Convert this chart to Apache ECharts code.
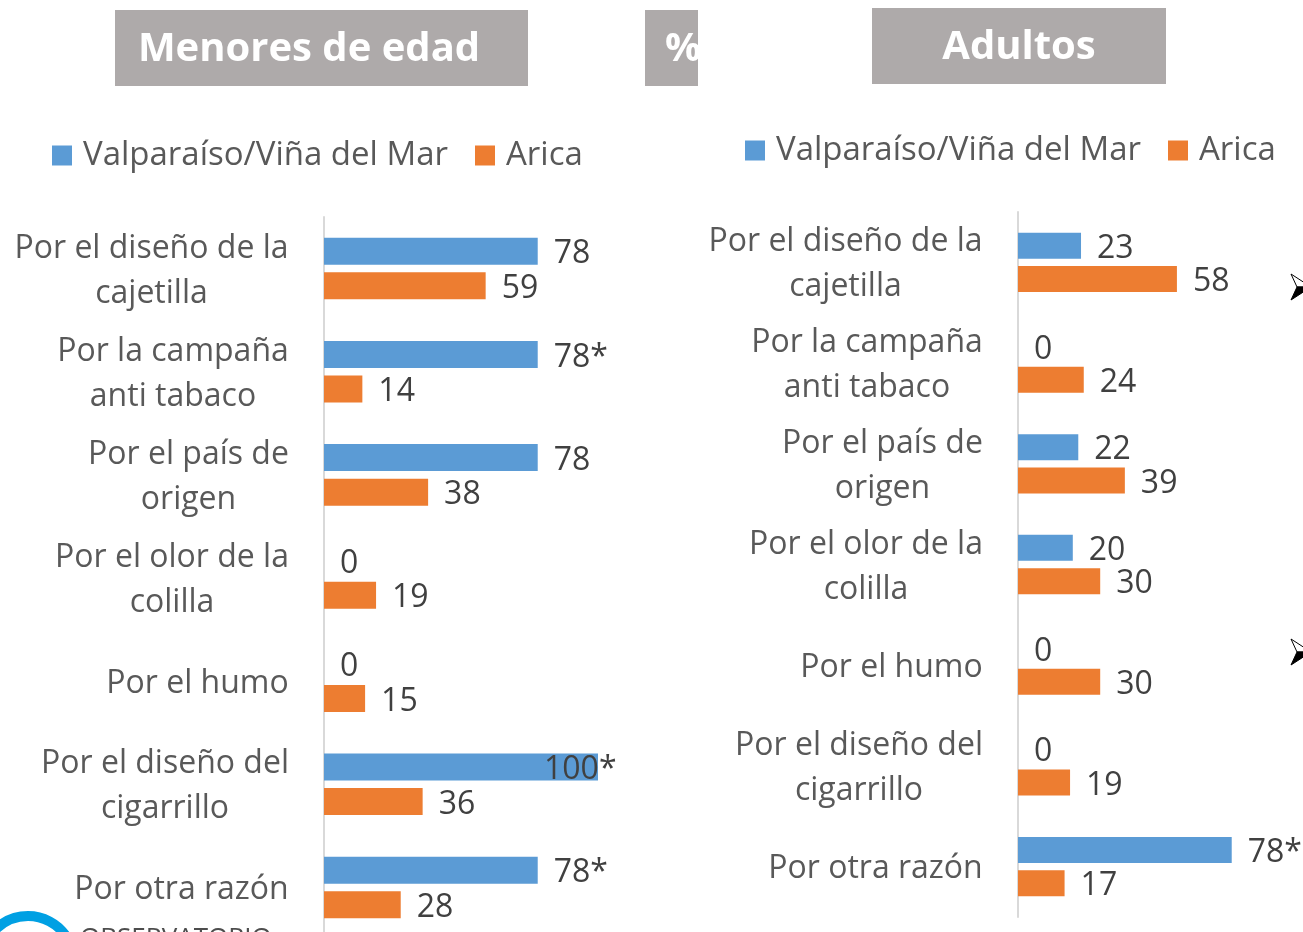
<!DOCTYPE html>
<html>
<head>
<meta charset="utf-8">
<script src="https://cdn.jsdelivr.net/npm/echarts@6/dist/echarts.min.js"></script>
<style>
  html, body { margin: 0; padding: 0; background: #ffffff; }
  #chart { width: 1303px; height: 932px; }
</style>
</head>
<body>
<div id="chart"></div>
<script>
// Reasons given, one row per category (top to bottom)
const categorias = [
  'Por el diseño de la\ncajetilla',
  'Por la campaña\nanti tabaco',
  'Por el país de\norigen',
  'Por el olor de la\ncolilla',
  'Por el humo',
  'Por el diseño del\ncigarrillo',
  'Por otra razón'
];
const nombresSeries = ['Valparaíso/Viña del Mar', 'Arica'];

// Menores de edad (%)
const valparaisoMenores = [78, 78, 78, 0, 0, 100, 78];
const aricaMenores = [59, 14, 38, 19, 15, 36, 28];
const asteriscoMenores = [false, true, false, false, false, true, true];

// Adultos (%)
const valparaisoAdultos = [23, 0, 22, 20, 0, 0, 78];
const aricaAdultos = [58, 24, 39, 30, 30, 19, 17];
const asteriscoAdultos = [false, false, false, false, false, false, true];

const FONT = '"Open Sans"';
const AZUL = '#5b9bd5';
const NARANJA = '#ed7d31';
const GRIS_TEXTO = '#595959';
const GRIS_VALOR = '#404040';
const TAM = 32;

// Multi-line category labels: lines centred on each other, block right-aligned to the axis
const ctx = document.createElement('canvas').getContext('2d');
ctx.font = TAM + 'px ' + FONT;
const richCategorias = {};
categorias.forEach((c, i) => {
  const w = Math.max(...c.split('\n').map(l => ctx.measureText(l).width));
  richCategorias['c' + i] = {
    width: Math.ceil(w) + 2, align: 'center', fontSize: TAM, lineHeight: 45,
    color: GRIS_TEXTO, fontFamily: FONT
  };
});
const formatoCategoria = (v, i) => v.split('\n').map(l => `{c${i}|${l}}`).join('\n');

function ejeCategorias(gridIndex) {
  return {
    type: 'category', gridIndex, data: categorias, inverse: true,
    axisLine: { show: true, lineStyle: { color: '#d9d9d9', width: 2 } },
    axisTick: { show: false },
    axisLabel: { margin: 34, padding: [5, 0, 0, 0], formatter: formatoCategoria, rich: richCategorias }
  };
}
function ejeValores(gridIndex) {
  return {
    type: 'value', gridIndex, min: 0, max: 100,
    show: false, splitLine: { show: false }
  };
}
function etiqueta(asteriscos) {
  return {
    show: true, position: 'right', distance: 16, offset: [0, 3],
    fontSize: TAM, fontFamily: FONT, color: GRIS_VALOR,
    formatter: p => p.value + (asteriscos && asteriscos[p.dataIndex] ? '*' : '')
  };
}
// A full-scale bar keeps its label over the bar end so it stays on the canvas
const datosBarra = arr => arr.map(v => v >= 100 ? { value: v, label: { offset: [-70, 3] } } : v);

function serie(nombre, datos, color, idx, asteriscos, ancho) {
  return {
    type: 'bar', name: nombre, xAxisIndex: idx, yAxisIndex: idx,
    data: datosBarra(datos), barWidth: ancho, barGap: '28%',
    itemStyle: { color }, label: etiqueta(asteriscos)
  };
}

function leyenda(left, top) {
  return {
    left, top, orient: 'horizontal', icon: 'rect',
    itemWidth: 20, itemHeight: 20, itemGap: 27,
    data: nombresSeries,
    textStyle: { fontSize: 33, fontFamily: FONT, color: GRIS_TEXTO, padding: [0, 0, 0, 6] }
  };
}

function cajaTitulo(x, y, w, h, texto, tx) {
  return [
    { type: 'rect', shape: { x, y, width: w, height: h }, style: { fill: '#aeaaaa' }, silent: true },
    {
      type: 'text', x: tx !== undefined ? tx : x + w / 2, y: y + h / 2 + 2, silent: true,
      style: {
        text: texto, fill: '#ffffff', font: 'bold 40px ' + FONT,
        textAlign: 'center', textVerticalAlign: 'middle'
      }
    }
  ];
}

// 3-D arrowhead bullet: light upper half, dark lower half
function flecha(x, y) {
  return [
    { type: 'polygon', silent: true,
      shape: { points: [[x, y - 13], [x + 20, y], [x + 6, y]] },
      style: { fill: '#ffffff', stroke: '#000000', lineWidth: 1 } },
    { type: 'polygon', silent: true,
      shape: { points: [[x + 6, y], [x + 20, y], [x, y + 13]] },
      style: { fill: '#000000', stroke: '#000000', lineWidth: 1 } }
  ];
}

const chart = echarts.init(document.getElementById('chart'), null, { renderer: 'canvas' });
chart.setOption({
  backgroundColor: '#ffffff',
  animation: false,
  color: [AZUL, NARANJA],
  legend: [leyenda(47, 134), leyenda(740, 129)],
  grid: [
    { left: 324, top: 217, width: 274, height: 722, outerBoundsMode: 'none' },
    { left: 1018, top: 212, width: 274, height: 705, outerBoundsMode: 'none' }
  ],
  xAxis: [ejeValores(0), ejeValores(1)],
  yAxis: [ejeCategorias(0), ejeCategorias(1)],
  series: [
    serie(nombresSeries[0], valparaisoMenores, AZUL, 0, asteriscoMenores, 27),
    serie(nombresSeries[1], aricaMenores, NARANJA, 0, null, 27),
    serie(nombresSeries[0], valparaisoAdultos, AZUL, 1, asteriscoAdultos, 26),
    serie(nombresSeries[1], aricaAdultos, NARANJA, 1, null, 26)
  ],
  graphic: [
    ...cajaTitulo(115, 10, 413, 76, 'Menores de edad', 309),
    ...cajaTitulo(645, 10, 53, 76, '%', 683),
    ...cajaTitulo(872, 8, 294, 76, 'Adultos'),
    ...flecha(1291, 287),
    ...flecha(1291, 652),
    // logo at the lower left
    { type: 'arc', silent: true,
      shape: { cx: 28, cy: 962, r: 46, startAngle: Math.PI, endAngle: 2 * Math.PI - 0.6, clockwise: true },
      style: { stroke: '#00a0e3', lineWidth: 10, fill: null } },
    { type: 'text', x: 80, y: 926, silent: true,
      style: { text: 'OBSERVATORIO', font: '26px ' + FONT, fill: '#4d4d4d', textVerticalAlign: 'top' } }
  ]
});
</script>
</body>
</html>
